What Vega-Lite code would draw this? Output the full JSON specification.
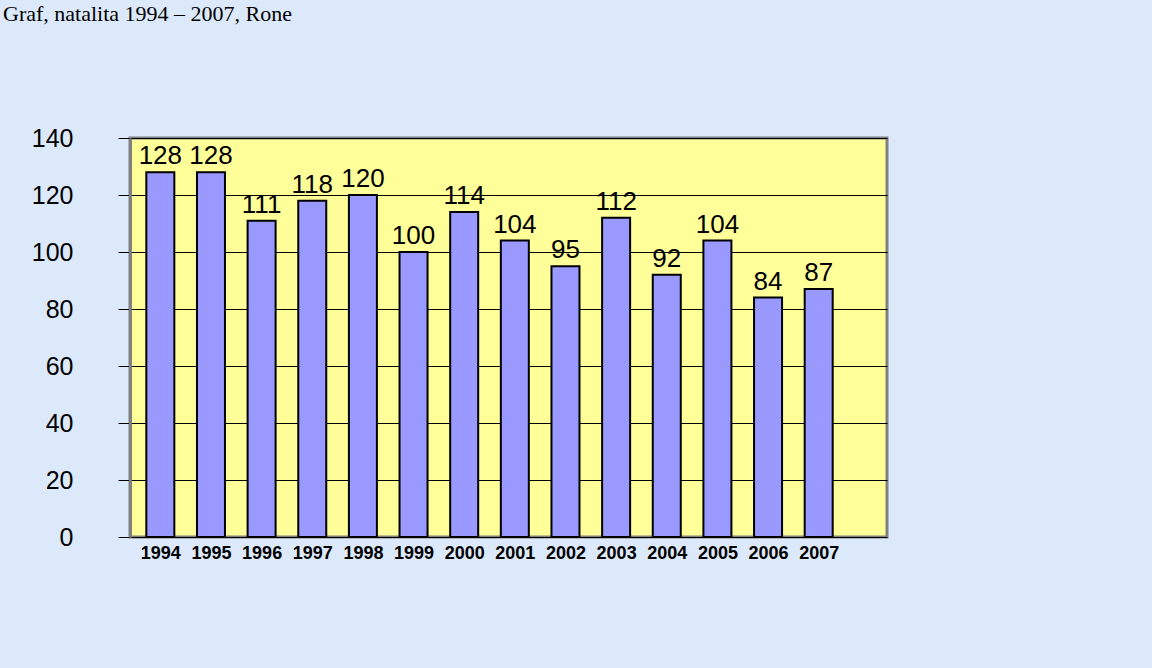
{
  "$schema": "https://vega.github.io/schema/vega-lite/v6.json",
  "autosize": "none",
  "width": 757,
  "height": 399,
  "padding": {"left": 130, "top": 138, "right": 265, "bottom": 131},
  "background": "#dce9fb",
  "title": {
    "text": "Graf, natalita 1994 – 2007, Rone",
    "anchor": "start",
    "frame": "group",
    "offset": 78,
    "dx": -127,
    "baseline": "bottom",
    "font": "Liberation Serif",
    "fontSize": 22,
    "fontWeight": "normal",
    "color": "black"
  },
  "data": {
    "values": [
      {"year": 1994, "value": 128},
      {"year": 1995, "value": 128},
      {"year": 1996, "value": 111},
      {"year": 1997, "value": 118},
      {"year": 1998, "value": 120},
      {"year": 1999, "value": 100},
      {"year": 2000, "value": 114},
      {"year": 2001, "value": 104},
      {"year": 2002, "value": 95},
      {"year": 2003, "value": 112},
      {"year": 2004, "value": 92},
      {"year": 2005, "value": 104},
      {"year": 2006, "value": 84},
      {"year": 2007, "value": 87}
    ]
  },
  "config": {
    "view": {"fill": "#ffff99", "stroke": "#808080", "strokeWidth": 3}
  },
  "encoding": {
    "x": {
      "field": "year",
      "type": "quantitative",
      "scale": {"domain": [1993.5, 2008.25], "nice": false, "zero": false},
      "axis": {
        "title": null,
        "values": [1994, 1995, 1996, 1997, 1998, 1999, 2000, 2001, 2002, 2003, 2004, 2005, 2006, 2007],
        "format": "d",
        "grid": false,
        "ticks": false,
        "domain": false,
        "labelFont": "Liberation Sans",
        "labelFontSize": 18,
        "labelFontWeight": "bold",
        "labelColor": "black",
        "labelPadding": 7,
        "labelDx": 4
      }
    },
    "y": {
      "field": "value",
      "type": "quantitative",
      "scale": {"domain": [0, 140], "nice": false},
      "axis": {
        "title": null,
        "values": [0, 20, 40, 60, 80, 100, 120, 140],
        "grid": true,
        "gridColor": "black",
        "gridWidth": 1,
        "gridOpacity": 1,
        "tickSize": 12,
        "tickColor": "black",
        "tickWidth": 1,
        "domainColor": "#808080",
        "domainWidth": 3,
        "labelFont": "Liberation Sans",
        "labelFontSize": 25,
        "labelColor": "black",
        "labelPadding": 45
      }
    }
  },
  "layer": [
    {
      "mark": {"type": "bar", "width": 28, "color": "#9999ff", "stroke": "black", "strokeWidth": 2}
    },
    {
      "mark": {"type": "text", "baseline": "bottom", "dy": -3, "font": "Liberation Sans", "fontSize": 26, "color": "black"},
      "encoding": {"text": {"field": "value", "type": "quantitative"}}
    }
  ]
}
